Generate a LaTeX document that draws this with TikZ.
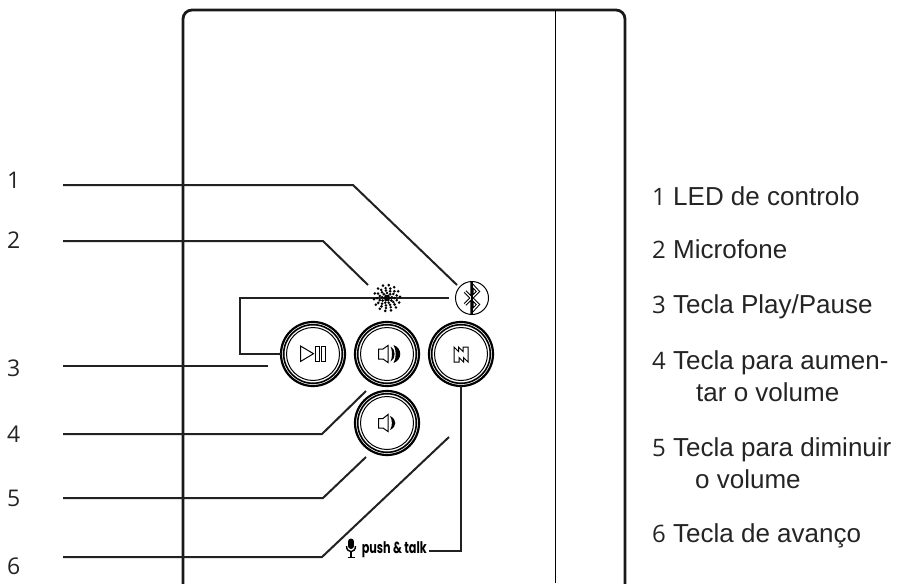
\documentclass[tikz,border=0pt]{standalone}
\usepackage{fontspec}
\setmainfont{Liberation Sans}
\newfontfamily\numfont{Open Sans}
\newfontfamily\pushfont{Poppins}
\usetikzlibrary{calc}
\definecolor{inkline}{gray}{0.13}
\definecolor{inktext}{gray}{0.14}
\tikzset{
  x=1pt,y=-1pt,
  leader/.style={line width=2pt,color=inkline,line join=miter},
  housing/.style={line width=2.8pt,color=black!90,rounded corners=9pt},
  btnouter/.style={circle,draw=black,line width=2.2pt,minimum size=64pt,inner sep=0pt,outer sep=0pt},
  ringmid/.style={line width=1.6pt,draw=black},
  ringinner/.style={line width=1pt,draw=black},
  icon/.style={line width=1pt,draw=black,line join=miter},
  numleft/.style={font=\numfont\fontsize{23}{26}\selectfont,anchor=west,inner sep=0pt,text=inktext},
  numright/.style={font=\numfont\fontsize{24}{26}\selectfont,anchor=base west,inner sep=0pt,text=inktext},
  lab/.style={font=\fontsize{26}{30}\selectfont,anchor=base west,inner sep=0pt,text=inktext},
}
\begin{document}
\begin{tikzpicture}
\useasboundingbox (0,0) rectangle (901,583);
% housing
\coordinate (hbl) at (183,590);
\coordinate (htl) at (183,10);
\coordinate (htr) at (625,10);
\coordinate (hbr) at (625,590);
\coordinate (dtop) at (555.5,10);
\coordinate (dbot) at (555.5,583);
\begin{scope}
\clip (0,0) rectangle (901,583);
\draw[housing] (hbl) -- (htl) -- (htr) -- (hbr);
\end{scope}
\draw[line width=1pt] (dtop) -- (dbot);

% buttons
\node[btnouter] (play) at (313,354) {};
\node[btnouter] (volup) at (387,354) {};
\node[btnouter] (next) at (461,354) {};
\node[btnouter] (voldn) at (387,423) {};
\foreach \b in {play,volup,next,voldn}{
  \draw[ringmid] (\b.center) circle (29.3);
  \draw[ringinner] (\b.center) circle (26.5);
}
% bluetooth
\node[circle,draw=black,line width=1pt,minimum size=33pt,inner sep=0pt,outer sep=0pt] (bt) at (472,298) {};
\draw[line width=3.4pt,line join=miter] ($(bt)+(-7,-6.5)$) -- ($(bt)+(6,6.5)$) -- ($(bt)+(0,13)$) -- ($(bt)+(0,-13)$) -- ($(bt)+(6,-6.5)$) -- ($(bt)+(-7,6.5)$);
\draw[line width=1.3pt,white,line join=miter] ($(bt)+(-7,-6.5)$) -- ($(bt)+(6,6.5)$) -- ($(bt)+(0,13)$) -- ($(bt)+(0,-13)$) -- ($(bt)+(6,-6.5)$) -- ($(bt)+(-7,6.5)$);
\draw[line width=1.1pt] (bt.north) -- (bt.south);
% microphone
\node[circle,inner sep=0pt,minimum size=28pt] (mic) at (387,298) {};

% connectors
\coordinate (lA) at (63,185);
\coordinate (bA) at (353,185);
\coordinate (eA) at (457,285);
\coordinate (lB) at (63,241);
\coordinate (bB) at (323,241);
\coordinate (eB) at (368,285);
\coordinate (lC) at (63,366);
\coordinate (eC) at (268,366);
\coordinate (lD) at (63,434);
\coordinate (bD) at (322,434);
\coordinate (eD) at (366,391);
\coordinate (lE) at (63,498);
\coordinate (bE) at (323,498);
\coordinate (eE) at (366,457);
\coordinate (lF) at (63,557);
\coordinate (bF) at (322,557);
\coordinate (eF) at (449,437);
\draw[leader] (lA) -- (bA) -- (eA);
\draw[leader] (lB) -- (bB) -- (eB);
\draw[leader] (lC) -- (eC);
\draw[leader] (lD) -- (bD) -- (eD);
\draw[leader] (lE) -- (bE) -- (eE);
\draw[leader] (lF) -- (bF) -- (eF);
% link line top
\coordinate (kA) at (449,298);
\coordinate (kB) at (240,298);
\coordinate (kC) at (240,354);
\draw[leader] (kA) -- (kB) -- (kC) -- (play.west);
% mic dots on top
\foreach \r/\n/\o in {2.5/6/0,5/9/10,7.5/11/0,10/13/15,13/14/5}{
  \foreach \i in {1,...,\n}{
    \pgfmathsetmacro{\dx}{\r*cos(\o+360*\i/\n)}
    \pgfmathsetmacro{\dy}{\r*sin(\o+360*\i/\n)}
    \fill (mic.center) ++(\dx pt,\dy pt) circle [radius=1.45pt];
  }
}
\fill (mic.center) circle [radius=3pt];
% next -> push&talk
\coordinate (nA) at (461,551);
\coordinate (nB) at (429,551);
\draw[leader] (next.south) -- (nA) -- (nB);
% push & talk
\node[font=\pushfont\bfseries\fontsize{16}{18}\selectfont,anchor=east,inner sep=0pt] (ptt) at (427,549.5) {\scalebox{.7}[1]{push \& talk}};
\draw[line width=6pt,line cap=round] (351,541.5) -- (351,546);
\draw[line width=1.4pt] (346.5,546) .. controls (346.5,553.5) and (355.5,553.5) .. (355.5,546);
\draw[line width=1.6pt] (351,551) -- (351,557) (347.5,557.3) -- (354.5,557.3);

% play/pause icon
\draw[icon] (300.5,346) -- (300.5,361.5) -- (313.5,353.7) -- cycle;
\draw[icon] (315.5,346.5) rectangle (319.5,361.5);
\draw[icon] (321.5,346.5) rectangle (325.5,361.5);
% volume up
\draw[icon] (378.5,349) -- (383,349) -- (388,345.5) -- (388,362.5) -- (383,359) -- (378.5,359) -- cycle;
\fill (390.5,346.5) .. controls (396,349) and (396,359) .. (390.5,361.5) .. controls (392.5,358) and (392.5,350) .. (390.5,346.5) -- cycle;
\fill (393.5,345) .. controls (402.5,348) and (402.5,360) .. (393.5,363) .. controls (396.5,358) and (396.5,350) .. (393.5,345) -- cycle;
% volume down
\draw[icon] (378.5,418.5) -- (383,418.5) -- (388,414.5) -- (388,431.5) -- (383,428) -- (378.5,428) -- cycle;
\fill (390,416) .. controls (397,419) and (397,427) .. (390,430) .. controls (392.5,426) and (392.5,420) .. (390,416) -- cycle;
% skip
\draw[icon] (454,347) -- (458.5,351.5) -- (458.5,347) -- (463,351.5) -- (463,347) -- (468,347) -- (468,362) -- (463.5,357.5) -- (463.5,362) -- (459,357.5) -- (459,362) -- (454,362) -- cycle;

% labels left
\node[numleft] (n1) at (7,180) {1};
\node[numleft] (n2) at (7,240) {2};
\node[numleft] (n3) at (7,368) {3};
\node[numleft] (n4) at (7,434) {4};
\node[numleft] (n5) at (7,498) {5};
\node[numleft] (n6) at (7,566) {6};
% labels right
\node[numright] (r1) at (652,205) {1};
\node[lab] (t1) at (673,205) {LED de controlo};
\node[numright] (r2) at (652,258) {2};
\node[lab] (t2) at (673,258) {Microfone};
\node[numright] (r3) at (652,313) {3};
\node[lab] (t3) at (673,313) {Tecla Play/Pause};
\node[numright] (r4) at (652,369) {4};
\node[lab] (t4) at (673,369) {Tecla para aumen-};
\node[lab] (t4b) at (696,401) {tar o volume};
\node[numright] (r5) at (652,456) {5};
\node[lab] (t5) at (673,456) {Tecla para diminuir};
\node[lab] (t5b) at (695,488) {o volume};
\node[numright] (r6) at (652,542) {6};
\node[lab] (t6) at (673,542) {Tecla de avanço};
\end{tikzpicture}
\end{document}
